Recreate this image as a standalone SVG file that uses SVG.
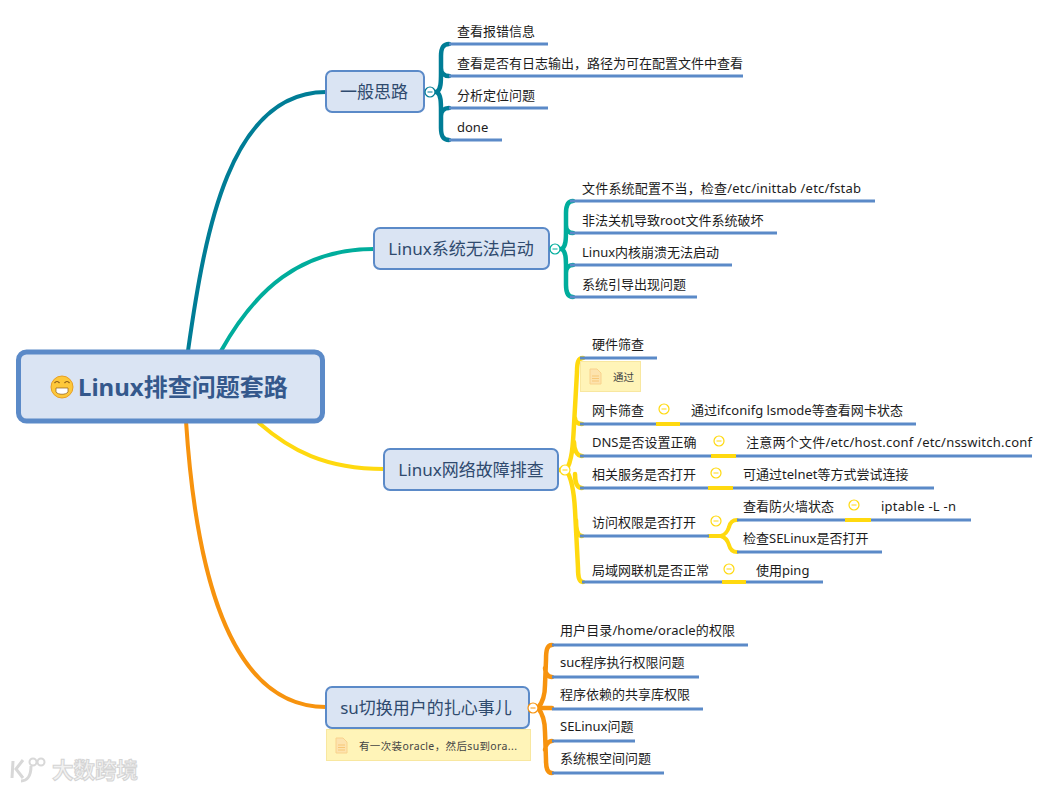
<svg xmlns="http://www.w3.org/2000/svg" width="1062" height="789" viewBox="0 0 1062 789">
<defs>
<style>
text{font-family:"Noto Sans","Noto Sans CJK SC",sans-serif;fill:#1c1c1c}
.t{font-size:13px}
.m{font-size:17px;fill:#2f4a6e;text-anchor:middle}
.n{font-size:10.5px;fill:#444}
.box{fill:#dae4f3;stroke:#5b8ac8;stroke-width:2}
.ul{stroke:#5b8ac8;stroke-width:3;fill:none}
.c{fill:none;stroke-linecap:round}
.teal{stroke:#007d96}.green{stroke:#00ad9c}.yel{stroke:#ffd90f}.org{stroke:#f7930e}
.note{fill:#fff4b8;stroke:#f8e7a0;stroke-width:1}
</style>
<g id="tog"><circle r="5" fill="#fff" stroke-width="1.2"/><path d="M-2.500 0H2.500" stroke-width="1" fill="none"/></g>
<g id="doc"><path d="M0 0H7L11 4V15H0Z" fill="#fde3ae" stroke="#f9d28c" stroke-width="1"/><path d="M2 7H9M2 9.500H9M2 12H9" stroke="#f7c777" stroke-width="1" fill="none"/></g>
</defs>
<rect width="1062" height="789" fill="#fff"/>
<g id="connectors">
<path class="c teal" stroke-width="4" d="M188 351C205 230 230 92 326 92"/>
<path class="c green" stroke-width="4" d="M221 351C255 290 300 249 374 249"/>
<path class="c yel" stroke-width="4" d="M259 423C290 450 325 469 384 469"/>
<path class="c org" stroke-width="4" d="M186 421C195 560 225 707 326 707"/>
<g class="c teal" stroke-width="4.500"><path d="M424 92H437"/><path d="M437 92C441 89 441 82 441 72V56C441 48 443 44 449 44M441 68C441 73 444 76 449 76M437 92C441 95 441 102 441 112V128C441 136 443 140 449 140M441 116C441 111 444 108 449 108"/></g>
<g class="c green" stroke-width="4.500"><path d="M549 249H561"/><path d="M562 249C566 246 566 239 566 229V213C566 205 568 201 573 201M566 225C566 230 569 233 573 233M562 249C566 252 566 259 566 269V285C566 293 568 297 573 297M566 273C566 268 569 265 573 265"/></g>
<g class="c yel" stroke-width="4.500"><path d="M558 470H566"/><path d="M566 470C572 462 573 445 574 425L577 372C577 363 578 358 583 358M574 442C574 450 577 456 582 456M575 418C575 421 577 424 582 424M566 470C572 478 574 492 575 510L578 568C578 577 579 582 583 582M575 474C575 482 577 488 582 488M576 520C576 530 578 536 582 536"/></g>
<g class="c org" stroke-width="4.500"><path d="M529 708H552"/><path d="M538 708C543 702 545 695 545 685L546 660C546 650 547 645 552 645M545 668C545 673 548 677 552 677M538 708C543 714 545 722 545 732L546 760C546 768 547 773 552 773M545 750C545 746 548 741 552 741"/></g>
<g class="c yel" stroke-width="4"><path d="M709 536H722"/><path d="M721 536C727 534 728 530 729 527C730 523 732 520 737 520M721 536C727 538 728 542 729 545C730 549 732 552 737 552"/></g>
<path class="ul" d="M449 44H548M449 76H743M449 108H548M449 140H502M570 201H875M570 233H777M570 265H732M570 297H697M580 358H657M580 424H916M580 456H1032M580 488H934M580 536H709M737 520H971M737 552H882M582 582H823M552 645H748M552 677H699M552 709H703M552 741H635M552 773H664"/>
<path fill="none" stroke="#ffd90f" stroke-width="4" d="M656 424H680M711 456H736M708 488H733M722 582H746M845 520H871"/>
</g>
<g id="root"><rect x="18.500" y="352" width="304" height="69" rx="8" fill="#dae4f3" stroke="#5b8ac8" stroke-width="5"/>
<circle cx="62" cy="387" r="11" fill="#fdc83a" stroke="#e89f24" stroke-width="1"/><path d="M56 388H68V392C66 395 58 395 56 392Z" fill="#fff" stroke="#8a5a18" stroke-width=".7"/><path d="M54.500 383Q57 380 59.500 383M64.500 383Q67 380 69.500 383" fill="none" stroke="#8a5a18" stroke-width="1.200"/>
<text x="78" y="396" style="font-size:24px;font-weight:700;fill:#34588c">Linux排查问题套路</text></g>
<g id="n1"><rect class="box" x="326" y="71" width="98" height="41" rx="6"/><text class="m" x="374" y="98">一般思路</text><use href="#tog" x="430" y="92" stroke="#007d96"/></g>
<g id="n1a"><text class="t" x="457" y="36">查看报错信息</text></g>
<g id="n1b"><text class="t" x="457" y="68">查看是否有日志输出，路径为可在配置文件中查看</text></g>
<g id="n1c"><text class="t" x="457" y="100">分析定位问题</text></g>
<g id="n1d"><text class="t" x="457" y="132">done</text></g>
<g id="n2"><rect class="box" x="374" y="228" width="175" height="41" rx="6"/><text class="m" x="461" y="255">Linux系统无法启动</text><use href="#tog" x="555" y="249" stroke="#00ad9c"/></g>
<g id="n2a"><text class="t" x="582" y="193" textLength="279">文件系统配置不当，检查/etc/inittab /etc/fstab</text></g>
<g id="n2b"><text class="t" x="582" y="225">非法关机导致root文件系统破坏</text></g>
<g id="n2c"><text class="t" x="582" y="257">Linux内核崩溃无法启动</text></g>
<g id="n2d"><text class="t" x="582" y="289">系统引导出现问题</text></g>
<g id="n3"><rect class="box" x="384" y="449" width="174" height="41" rx="6"/><text class="m" x="471" y="476">Linux网络故障排查</text><use href="#tog" x="565" y="470" stroke="#ffd90f"/></g>
<g id="n3a"><text class="t" x="592" y="349">硬件筛查</text><rect class="note" x="580.500" y="361.500" width="60" height="30"/><use href="#doc" x="590" y="369"/><text class="n" x="613" y="381">通过</text></g>
<g id="n3b"><text class="t" x="592" y="415">网卡筛查</text><use href="#tog" x="664" y="409" stroke="#ffd90f"/><text class="t" x="691" y="415" textLength="212">通过ifconifg lsmode等查看网卡状态</text></g>
<g id="n3c"><text class="t" x="592" y="447">DNS是否设置正确</text><use href="#tog" x="719" y="441" stroke="#ffd90f"/><text class="t" x="746" y="447" textLength="286">注意两个文件/etc/host.conf /etc/nsswitch.conf</text></g>
<g id="n3d"><text class="t" x="592" y="479">相关服务是否打开</text><use href="#tog" x="716" y="473" stroke="#ffd90f"/><text class="t" x="743" y="479">可通过telnet等方式尝试连接</text></g>
<g id="n3e"><text class="t" x="592" y="527">访问权限是否打开</text><use href="#tog" x="716" y="521" stroke="#ffd90f"/><text class="t" x="743" y="511">查看防火墙状态</text><use href="#tog" x="854" y="505" stroke="#ffd90f"/><text class="t" x="881" y="511" textLength="75">iptable -L -n</text><text class="t" x="743" y="543">检查SELinux是否打开</text></g>
<g id="n3f"><text class="t" x="592" y="575">局域网联机是否正常</text><use href="#tog" x="729" y="569" stroke="#ffd90f"/><text class="t" x="756" y="575">使用ping</text></g>
<g id="n4"><rect class="box" x="326" y="687" width="203" height="41" rx="6"/><text class="m" x="426" y="714">su切换用户的扎心事儿</text><use href="#tog" x="533" y="708" stroke="#f7930e"/>
<rect class="note" x="326.500" y="729.500" width="204" height="31"/><use href="#doc" x="336" y="738"/><text class="n" x="359" y="750" textLength="158">有一次装oracle，然后su到ora...</text></g>
<g id="n4a"><text class="t" x="560" y="635" textLength="175">用户目录/home/oracle的权限</text></g>
<g id="n4b"><text class="t" x="560" y="667">suc程序执行权限问题</text></g>
<g id="n4c"><text class="t" x="560" y="699">程序依赖的共享库权限</text></g>
<g id="n4d"><text class="t" x="560" y="731">SELinux问题</text></g>
<g id="n4e"><text class="t" x="560" y="763">系统根空间问题</text></g>
<g id="watermark"><path d="M13 761L12 778M23 760L16 769L23 778M31 766C31 776 27 781 21 781" fill="none" stroke="#d8d8d8" stroke-width="3"/><circle cx="33" cy="762" r="3.500" fill="#fff" stroke="#d8d8d8" stroke-width="2"/><circle cx="41" cy="762" r="3.500" fill="#fff" stroke="#d8d8d8" stroke-width="2"/><text x="52" y="778" style="font-size:21.500px;font-weight:700;fill:#f2f2f2;stroke:#d4d4d4;stroke-width:1">大数跨境</text></g>
</svg>
